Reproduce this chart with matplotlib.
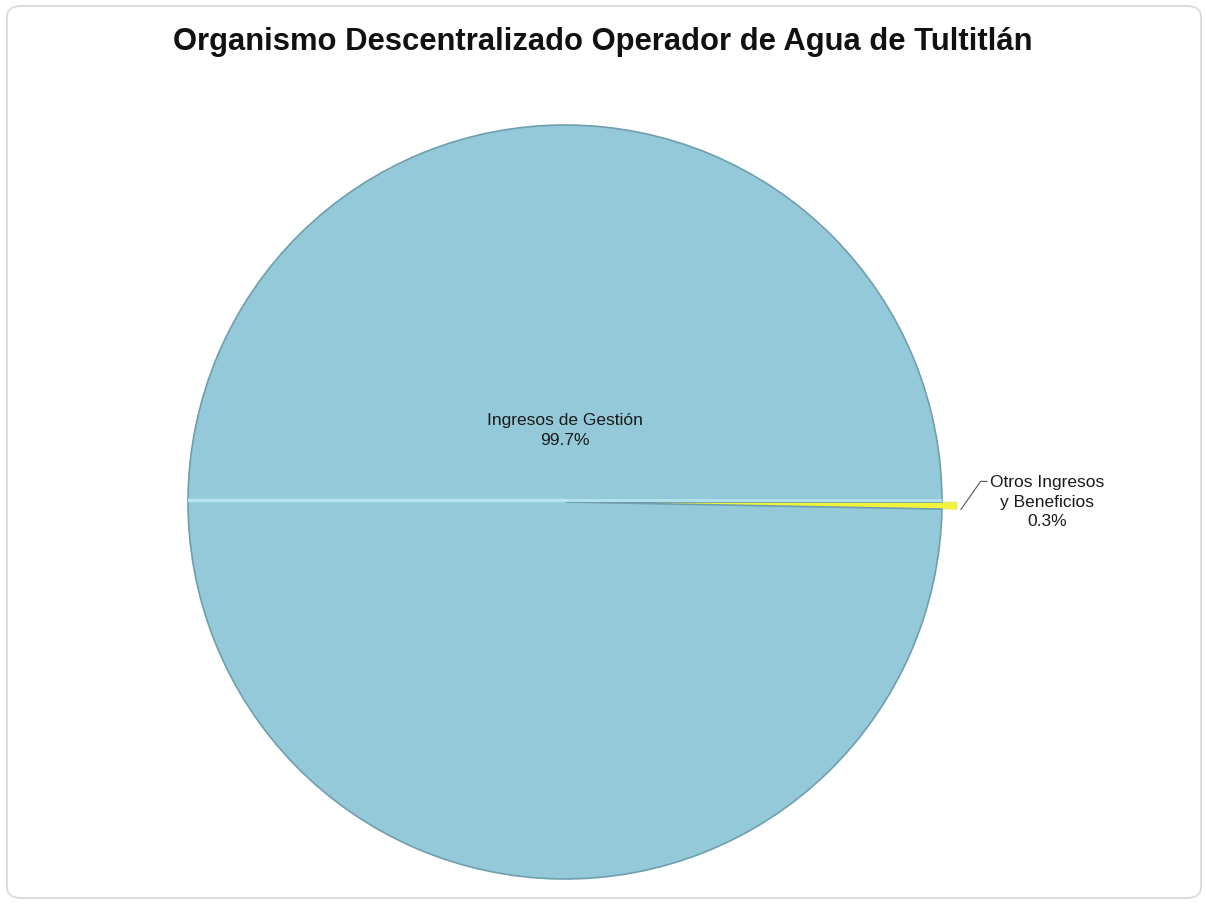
import matplotlib.pyplot as plt
from matplotlib.patches import FancyBboxPatch

labels = ['Otros Ingresos\ny Beneficios', 'Ingresos de Gestión']
values = [0.3, 99.7]
colors = ['#F2F23C', '#93C9D8']

W, H = 1206, 907
fig = plt.figure(figsize=(W / 100, H / 100), dpi=100)
plt.rcParams['font.family'] = ['Liberation Sans', 'DejaVu Sans']

# rounded chart frame
frame = FancyBboxPatch((7 / W, 9 / H), 1194 / W, 892 / H,
                       boxstyle='round,pad=0,rounding_size=0.012',
                       transform=fig.transFigure, facecolor='white',
                       edgecolor='#DDDDDD', linewidth=1.5, zorder=-5)
fig.patches.append(frame)

cx, cy, r = 565, 907 - 502, 377
ax = fig.add_axes([(cx - r) / W, (cy - r) / H, 2 * r / W, 2 * r / H], zorder=2)
wedges, _ = ax.pie(values, colors=colors, startangle=0, counterclock=False,
                   explode=[0.04, 0],
                   wedgeprops=dict(edgecolor='#6F9FAE', linewidth=1.2))
wedges[0].set_edgecolor('#E4E47A')
wedges[0].set_linewidth(0.6)
# highlight line across the pie
ax.plot([-1, 0], [0.005, 0.005], color='#B5E3F0', lw=2.5, zorder=3)
ax.plot([0, 1], [0.005, 0.005], color='#B5E3F0', lw=2.0, zorder=3)
ax.set_xlim(-1, 1)
ax.set_ylim(-1, 1)
ax.set_aspect('equal')
ax.axis('off')

# labels
ax.text(0, 0.19, f'{labels[1]}\n{values[1]}%', ha='center', va='center',
        fontsize=12.5, color='#1A1A1A', linespacing=1.4)
ax.annotate(f'{labels[0]}\n{values[0]}%', xy=(1.05, -0.02), xytext=(1.127, 0.072),
            ha='left', va='top', fontsize=12.5, color='#1A1A1A', multialignment='center',
            linespacing=1.4, annotation_clip=False,
            arrowprops=dict(arrowstyle='-', color='#555555', lw=0.8, relpos=(0, 0.88),
                            shrinkA=0, shrinkB=0,
                            connectionstyle='angle,angleA=0,angleB=55,rad=0'))

fig.text(0.5, 1 - 42 / H, 'Organismo Descentralizado Operador de Agua de Tultitlán',
         ha='center', va='center', fontsize=22.3, fontweight='bold', color='#111111')

fig.savefig('out.png', dpi=100)
